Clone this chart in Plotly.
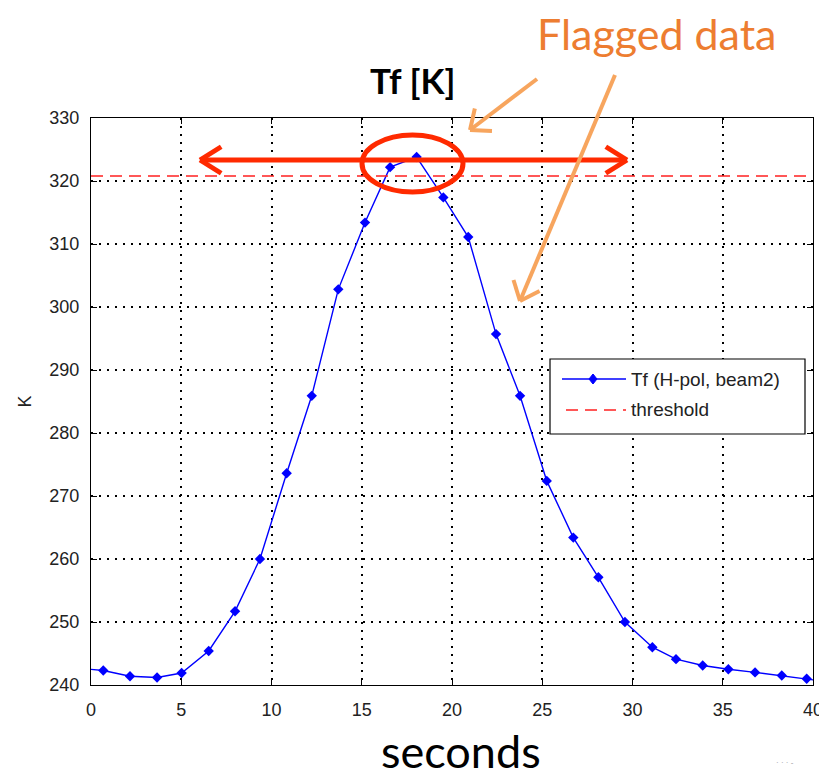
import math
import plotly.graph_objects as go

# ---------------- data ----------------
time_s = [-0.78, 0.68, 2.16, 3.66, 5.02, 6.52, 7.98, 9.36, 10.84, 12.23,
          13.70, 15.18, 16.57, 18.04, 19.52, 20.90, 22.44, 23.77, 25.25, 26.72,
          28.11, 29.58, 31.10, 32.41, 33.89, 35.31, 36.79, 38.27, 39.65, 41.10]
tf_k = [242.7, 242.3, 241.4, 241.2, 241.9, 245.4, 251.7, 260.0, 273.6, 285.9,
        302.8, 313.4, 322.2, 323.8, 317.4, 311.1, 295.7, 285.9, 272.4, 263.4,
        257.1, 250.0, 246.0, 244.1, 243.1, 242.5, 242.0, 241.5, 241.0, 240.4]
threshold_x = [0, 40]
threshold_k = [320.8, 320.8]

x_ticks = [0, 5, 10, 15, 20, 25, 30, 35, 40]
y_ticks = [240, 250, 260, 270, 280, 290, 300, 310, 320, 330]

series_name = "Tf (H-pol, beam2)"
threshold_name = "threshold"

# ---------------- layout geometry ----------------
OFF = 8                      # page body margin in the browser
W, H = 827 - OFF, 779 - OFF
ML, MR, MT, MB = 91 - OFF, 14, 118 - OFF, 94
PW, PH = W - ML - MR, H - MT - MB

BLUE = "#0000FF"
RED_DASH = "#FF2020"
RED = "#FF2A00"
ORANGE = "#F7A55E"
TXT = "#222"
FONT = "Liberation Sans, Arial"


def px(x, y):
    """screen pixel position -> paper coordinates (decorations only)"""
    fx, fy = x - OFF, y - OFF
    return (fx - ML) / PW, (H - MB - fy) / PH


fig = go.Figure()
fig.add_trace(go.Scatter(
    x=time_s, y=tf_k, mode="lines+markers", name=series_name, showlegend=False,
    line=dict(color=BLUE, width=1.4),
    marker=dict(symbol="diamond", size=8, color=BLUE),
))
fig.add_trace(go.Scatter(
    x=threshold_x, y=threshold_k, mode="lines", name=threshold_name, showlegend=False,
    line=dict(color=RED_DASH, width=1.5, dash="12px,7px"),
))

axis_common = dict(
    showline=True, linecolor="black", linewidth=1.2, mirror="ticks",
    ticks="inside", ticklen=6, tickcolor="black", tickwidth=1,
    showgrid=True, gridcolor="black", gridwidth=1.5, griddash="1.5px,6.5px",
    zeroline=False, automargin=False,
    tickfont=dict(family=FONT, size=18, color=TXT),
)

fig.update_xaxes(range=[0, 40], tickvals=x_ticks, ticklabelstandoff=8, **axis_common)
fig.update_yaxes(range=[240, 330], tickvals=y_ticks, ticklabelstandoff=7,
                 title=dict(text="K", standoff=12, font=dict(family=FONT, size=18, color=TXT)),
                 **axis_common)

shapes = []


def seg(x0, y0, x1, y1, color, width, dash=None):
    a, b = px(x0, y0)
    c, d = px(x1, y1)
    ln = dict(color=color, width=width)
    if dash:
        ln["dash"] = dash
    return dict(type="line", xref="paper", yref="paper", x0=a, y0=b, x1=c, y1=d,
                line=ln, layer="above")


def arrow(x0, y0, x1, y1, color, width, head=21, ang=38):
    out = [seg(x0, y0, x1, y1, color, width)]
    th = math.atan2(y0 - y1, x0 - x1)
    for s in (-1, 1):
        t = th + s * math.radians(ang)
        out.append(seg(x1, y1, x1 + head * math.cos(t), y1 + head * math.sin(t), color, width))
    return out


# red double arrow
shapes += arrow(414, 160, 200, 160, RED, 5, head=25, ang=32)
shapes += arrow(414, 160, 627, 160, RED, 5, head=25, ang=32)
# red ellipse
e0 = px(362, 192)
e1 = px(463, 135)
shapes.append(dict(type="circle", xref="paper", yref="paper",
                   x0=e0[0], y0=e0[1], x1=e1[0], y1=e1[1],
                   line=dict(color=RED, width=5), layer="above"))
# orange arrows
shapes += arrow(537, 79, 470, 130, ORANGE, 4, head=22, ang=40)
shapes += arrow(615, 75, 520, 301, ORANGE, 4, head=22, ang=40)

# legend box (drawn manually to match the long MATLAB line samples)
b0 = px(550, 434)
b1 = px(805, 359)
shapes.append(dict(type="rect", xref="paper", yref="paper",
                   x0=b0[0], y0=b0[1], x1=b1[0], y1=b1[1],
                   line=dict(color="black", width=1.2), fillcolor="white", layer="above"))
shapes.append(seg(562, 379, 626, 379, BLUE, 1.4))
dcx, dcy = 593, 379
dpts = [px(dcx, dcy - 5), px(dcx + 4, dcy), px(dcx, dcy + 5), px(dcx - 4, dcy)]
shapes.append(dict(type="path", xref="paper", yref="paper",
                   path="M{} {} L{} {} L{} {} L{} {} Z".format(*[v for p in dpts for v in p]),
                   fillcolor=BLUE, line=dict(color=BLUE, width=1), layer="above"))
shapes.append(seg(566, 410, 626, 410, RED_DASH, 1.5, dash="12px,7px"))

annotations = []


def label(text, x, y, size, color, family, xanchor="center"):
    tx, ty = px(x, y)
    annotations.append(dict(text=text, x=tx, y=ty, xref="paper", yref="paper",
                            showarrow=False, xanchor=xanchor, yanchor="middle",
                            font=dict(family=family, size=size, color=color)))


label(series_name, 629, 379, 19, TXT, FONT, xanchor="left")
label(threshold_name, 629, 409, 19, TXT, FONT, xanchor="left")
label("<b>Tf [K]</b>", 412, 80, 35, "black", "Lato")
label("Flagged data", 657, 33, 43, "#ED7D31", "Lato")
label("seconds", 461, 751, 45, "black", "Lato")
label("· · · -", 785, 762, 8, "#999", FONT)

fig.update_layout(
    width=W, height=H, autosize=False,
    margin=dict(l=ML, r=MR, t=MT, b=MB),
    paper_bgcolor="white", plot_bgcolor="white",
    showlegend=False,
    shapes=shapes, annotations=annotations,
)

fig.write_html("out.html")
